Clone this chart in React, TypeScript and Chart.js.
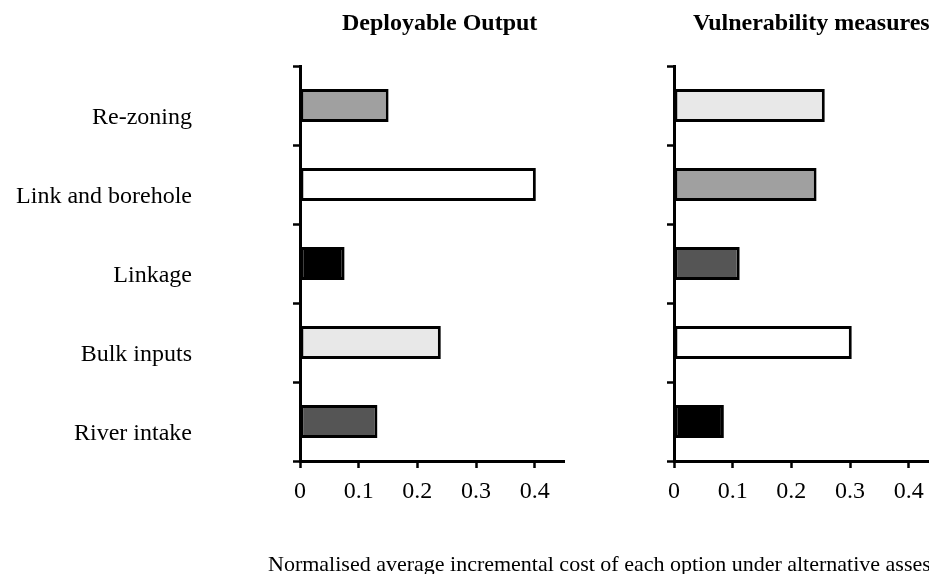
import React, { useEffect, useRef } from "react";
import { Chart, registerables } from "chart.js";

Chart.register(...registerables);

const categories = ["Re-zoning", "Link and borehole", "Linkage", "Bulk inputs", "River intake"];
const deployableOutput = [0.151, 0.402, 0.076, 0.24, 0.132];
const vulnerabilityMeasures = [0.257, 0.243, 0.112, 0.303, 0.085];
const deployableColors = ["#a0a0a0", "#ffffff", "#000000", "#e8e8e8", "#555555"];
const vulnerabilityColors = ["#e8e8e8", "#a0a0a0", "#555555", "#ffffff", "#000000"];
const xTickValues = [0, 0.1, 0.2, 0.3, 0.4];
const xAxisMax = 0.45;
const panelTitles = ["Deployable Output", "Vulnerability measures"];
const xAxisTitle = "Normalised average incremental cost of each option under alternative assessments";

const FAMILY = '"Liberation Serif", "Times New Roman", serif';

const panelTitlePlugin = {
  id: "panelTitle",
  afterDraw(chart: any, _args: any, o: any) {
    const ctx = chart.ctx;
    ctx.save();
    ctx.font = `bold 24px ${FAMILY}`;
    ctx.fillStyle = "#000";
    ctx.textAlign = "left";
    ctx.textBaseline = "alphabetic";
    ctx.fillText(o.text, chart.chartArea.left + o.dx, o.y);
    ctx.restore();
  },
};

function makeConfig(
  values: number[],
  colors: string[],
  title: string,
  yWidth: number,
  showLabels: boolean,
  padRight: number,
  titleDx: number
): any {
  return {
    type: "bar",
    data: {
      labels: categories,
      datasets: [
        {
          data: values,
          backgroundColor: colors,
          borderColor: "#000",
          borderWidth: 3,
          borderSkipped: false,
          barPercentage: 0.42,
          categoryPercentage: 1,
        },
      ],
    },
    plugins: [panelTitlePlugin],
    options: {
      indexAxis: "y",
      responsive: false,
      animation: false,
      layout: { padding: { top: 66, right: padRight, bottom: 0, left: 0 } },
      plugins: {
        legend: { display: false },
        tooltip: { enabled: false },
        title: { display: false },
        panelTitle: { text: title, dx: titleDx, y: 29.5 },
      },
      scales: {
        y: {
          type: "category",
          offset: true,
          grid: {
            display: true,
            offset: true,
            drawOnChartArea: false,
            drawTicks: true,
            tickLength: 7,
            tickWidth: 2.5,
            tickColor: "#000",
          },
          border: { display: true, color: "#000", width: 3 },
          ticks: {
            display: showLabels,
            color: "#000",
            font: { family: FAMILY, size: 24 },
            padding: 101,
            labelOffset: 12,
          },
          afterFit: (s: any) => {
            s.width = yWidth;
            s.paddingTop = 0;
            s.paddingBottom = 0;
          },
        },
        x: {
          type: "linear",
          min: 0,
          max: xAxisMax,
          afterBuildTicks: (axis: any) => {
            axis.ticks = xTickValues.map((v) => ({ value: v }));
          },
          grid: {
            display: true,
            drawOnChartArea: false,
            drawTicks: true,
            tickLength: 7,
            tickWidth: 2.5,
            tickColor: "#000",
          },
          border: { display: true, color: "#000", width: 3 },
          ticks: {
            color: "#000",
            font: { family: FAMILY, size: 24 },
            padding: 9,
            maxRotation: 0,
            autoSkip: false,
            callback: (v: any) => String(v),
          },
          afterFit: (s: any) => {
            s.height = 113;
          },
        },
      },
    },
  };
}

export default function App() {
  const leftRef = useRef<HTMLCanvasElement | null>(null);
  const rightRef = useRef<HTMLCanvasElement | null>(null);

  useEffect(() => {
    const c1 = new Chart(
      leftRef.current as HTMLCanvasElement,
      makeConfig(deployableOutput, deployableColors, panelTitles[0], 300, true, 36, 42)
    );
    const c2 = new Chart(
      rightRef.current as HTMLCanvasElement,
      makeConfig(vulnerabilityMeasures, vulnerabilityColors, panelTitles[1], 54, false, 82, 19)
    );
    return () => {
      c1.destroy();
      c2.destroy();
    };
  }, []);

  return (
    <div
      style={{
        position: "absolute",
        left: 0,
        top: 0,
        width: 929,
        height: 574,
        overflow: "hidden",
        background: "#fff",
      }}
    >
      <canvas
        ref={leftRef}
        width={600}
        height={574}
        style={{ position: "absolute", left: 0, top: 0, width: 600, height: 574, display: "block" }}
      />
      <canvas
        ref={rightRef}
        width={400}
        height={574}
        style={{ position: "absolute", left: 620, top: 0, width: 400, height: 574, display: "block" }}
      />
      <div
        style={{
          position: "absolute",
          left: 268,
          top: 553,
          fontFamily: FAMILY,
          fontSize: 22,
          lineHeight: "22px",
          whiteSpace: "nowrap",
          color: "#000",
        }}
      >
        {xAxisTitle}
      </div>
    </div>
  );
}
